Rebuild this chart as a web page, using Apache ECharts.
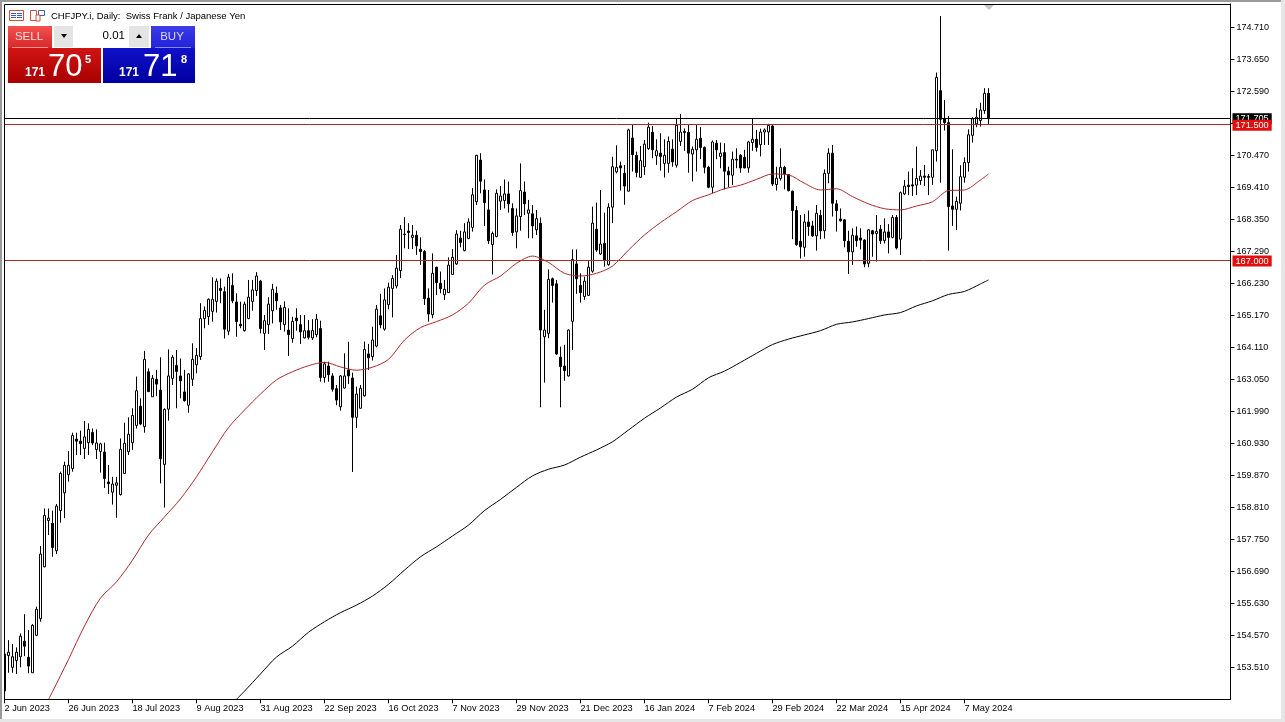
<!DOCTYPE html>
<html>
<head>
<meta charset="utf-8">
<title>CHFJPY.i, Daily</title>
<script src="https://cdn.jsdelivr.net/npm/echarts@6/dist/echarts.min.js"></script>
<style>
html, body { margin: 0; padding: 0; background: #fff; }
#chart { width: 1285px; height: 722px; }
</style>
</head>
<body>
<div id="chart"></div>
<script>
const chartTitle = 'CHFJPY.i, Daily:  Swiss Frank / Japanese Yen';
const FONT = '"Liberation Sans", Arial, sans-serif';

// one label every 16 bars, from the first bar
const dateLabels = ['2 Jun 2023', '26 Jun 2023', '18 Jul 2023', '9 Aug 2023', '31 Aug 2023', '22 Sep 2023', '16 Oct 2023', '7 Nov 2023',
    '29 Nov 2023', '21 Dec 2023', '16 Jan 2024', '7 Feb 2024', '29 Feb 2024', '22 Mar 2024', '15 Apr 2024', '7 May 2024'];
const priceTicks = [153.51, 154.57, 155.63, 156.69, 157.75, 158.81, 159.87, 160.93, 161.99, 163.05, 164.11,
    165.17, 166.23, 167.29, 168.35, 169.41, 170.47, 171.53, 172.59, 173.65, 174.71];

const opens = [
    153.95,153.90,153.51,153.73,153.86,154.37,153.84,153.33,154.57,155.12,
    156.84,158.37,158.28,157.37,158.70,159.29,159.89,160.09,161.07,161.00,
    160.76,160.95,161.29,160.72,160.66,160.64,159.65,159.31,159.54,159.23,
    159.93,160.65,160.95,161.52,162.16,161.48,163.30,162.47,163.05,162.69,
    160.23,162.06,163.08,163.51,163.16,162.63,162.19,163.05,163.53,163.80,
    165.06,165.13,165.30,165.63,166.06,165.95,164.64,166.16,165.61,164.87,
    164.66,165.06,165.63,165.99,166.30,164.57,164.86,165.32,165.90,165.41,
    164.86,164.68,164.40,165.08,164.86,164.42,164.66,164.42,164.53,164.73,
    163.11,163.49,163.16,162.74,162.14,162.76,163.36,163.09,161.79,162.09,
    162.50,163.89,163.80,164.15,165.15,164.71,165.52,166.06,166.14,166.65,
    167.84,167.96,167.75,167.82,167.36,167.28,165.74,165.19,166.76,166.23,
    165.85,165.92,166.52,166.87,167.73,167.31,167.71,168.08,168.93,170.31,
    169.32,168.66,167.51,167.78,168.95,168.97,169.19,168.71,167.93,168.44,
    169.25,168.55,168.53,168.00,168.22,164.46,164.57,166.38,166.21,163.78,
    163.49,163.16,164.97,166.87,166.16,165.79,165.83,166.63,168.02,167.20,
    167.55,166.85,168.75,169.92,170.12,169.87,169.28,171.04,170.47,169.74,
    170.09,170.69,171.23,170.45,170.54,170.20,170.20,170.67,170.14,170.93,
    171.26,171.23,170.51,170.65,171.03,170.73,170.07,169.41,170.87,170.43,
    170.56,169.94,169.81,170.34,170.47,170.40,170.05,170.89,171.00,170.82,
    171.24,171.24,171.44,169.50,169.70,170.07,169.83,169.28,168.64,167.62,
    167.42,168.26,168.13,167.80,168.48,167.97,169.87,170.54,168.86,168.36,
    168.33,167.62,167.27,167.80,167.73,167.66,166.89,167.97,167.88,168.02,
    167.64,167.93,167.75,168.41,167.69,169.19,169.48,169.49,169.48,169.63,
    169.78,169.77,169.74,170.62,172.61,171.68,171.55,168.79,168.68,168.88,
    169.74,170.23,171.13,171.51,171.62,171.95,172.52];
const closes = [
    152.73,154.01,153.86,154.01,154.54,154.21,153.55,154.90,155.43,157.26,
    158.54,158.45,157.48,158.85,159.93,160.20,160.20,161.19,161.00,160.92,
    161.14,161.39,160.94,160.94,160.91,159.76,159.59,159.58,159.62,160.73,
    160.93,161.23,161.85,162.67,161.57,163.71,162.64,163.08,162.89,160.42,
    162.05,163.16,163.78,163.31,163.00,162.34,163.23,163.71,163.84,165.06,
    165.33,165.70,165.70,166.30,165.99,164.71,166.43,165.65,164.96,164.82,
    165.54,165.77,166.01,166.47,164.73,164.99,165.54,166.03,165.65,164.95,
    165.43,164.53,164.97,164.99,164.62,164.66,164.44,164.66,165.04,163.11,
    163.56,163.20,162.72,162.36,163.16,163.16,163.16,161.79,162.56,162.75,
    164.04,163.76,164.35,165.37,164.85,165.68,166.10,166.39,166.73,168.02,
    167.86,167.91,167.82,167.47,167.28,165.72,165.21,166.56,166.25,166.05,
    166.03,166.83,167.09,167.86,167.58,167.93,168.26,169.16,170.47,169.61,
    168.90,167.64,167.88,169.21,169.12,169.19,168.86,167.91,168.46,169.30,
    168.86,168.66,168.13,168.37,164.68,164.68,166.36,166.16,163.89,163.47,
    163.34,164.68,167.02,166.38,165.92,166.30,166.76,168.22,167.33,167.53,
    167.00,168.75,170.09,170.07,170.05,169.45,171.31,170.49,169.90,170.29,
    170.84,171.40,170.65,170.62,170.43,170.47,170.93,170.25,171.46,171.24,
    171.22,170.54,170.67,171.00,170.73,170.07,169.41,170.91,170.65,170.54,
    169.94,169.82,170.34,170.31,170.05,170.05,170.91,171.00,170.73,171.24,
    171.31,171.46,169.52,169.71,170.07,169.85,169.30,168.64,167.51,167.44,
    168.26,168.11,167.80,168.55,167.97,169.87,170.54,168.88,168.64,168.30,
    167.64,167.27,167.82,167.64,167.66,166.87,168.00,167.86,167.95,167.64,
    167.93,167.75,168.41,167.40,169.23,169.45,169.43,169.45,169.70,169.78,
    169.74,169.74,170.65,173.05,171.66,171.55,168.77,168.68,168.94,169.76,
    170.23,171.15,171.68,171.73,171.97,172.52,171.68];
const lows = [
    152.73,153.33,153.33,153.29,153.51,153.88,153.31,153.33,154.54,155.02,
    156.82,157.89,157.17,157.26,158.30,158.45,159.66,159.99,160.54,160.54,
    160.41,160.54,160.87,160.41,159.96,159.45,159.25,158.90,158.46,159.20,
    159.93,160.54,160.71,161.42,161.53,161.28,162.64,162.47,162.49,159.60,
    158.80,161.68,162.86,162.09,162.42,162.31,161.94,162.83,163.25,163.69,
    164.74,164.85,164.96,165.26,165.57,164.40,164.51,165.57,164.46,164.74,
    164.63,165.04,165.32,165.81,164.57,164.02,164.55,164.90,165.35,164.68,
    164.63,163.82,164.26,164.66,164.22,164.40,164.37,164.35,164.44,162.97,
    162.94,162.97,162.64,162.19,162.01,162.74,162.89,159.98,161.43,162.08,
    162.48,163.36,163.67,164.11,164.74,164.66,165.37,165.10,166.06,166.40,
    167.39,167.36,167.36,167.17,166.84,165.51,164.96,165.07,165.84,165.90,
    165.68,165.92,166.52,166.84,167.42,167.29,167.69,167.94,168.82,169.21,
    168.13,167.53,166.52,167.75,168.66,168.71,168.57,167.80,167.39,167.97,
    168.49,167.72,167.72,167.83,162.12,162.94,164.41,165.59,163.85,162.12,
    163.00,163.14,164.02,165.88,165.59,165.68,165.81,166.58,167.27,167.17,
    166.78,166.81,168.22,169.87,169.30,168.83,169.27,169.93,169.74,169.72,
    169.82,170.65,170.37,170.15,169.96,169.73,169.89,170.09,170.06,170.78,
    170.62,169.89,169.60,169.93,170.34,169.87,169.38,169.21,170.34,170.04,
    169.34,169.41,169.49,170.04,169.89,170.04,169.89,170.62,170.59,170.43,
    170.81,170.81,169.45,169.30,169.63,169.34,169.27,167.69,167.47,167.05,
    167.11,167.80,167.77,167.31,167.69,167.71,169.54,168.44,167.94,168.27,
    167.42,166.54,166.84,167.44,167.35,166.76,166.76,167.11,166.95,167.53,
    167.55,167.22,167.72,167.35,167.17,169.15,169.15,169.12,169.15,169.49,
    169.45,169.15,169.49,170.26,169.56,171.29,167.31,168.13,167.99,168.64,
    169.56,169.93,170.89,171.40,171.42,171.84,171.51];
const highs = [
    154.08,154.41,154.28,154.17,154.63,155.27,154.74,154.94,155.52,157.53,
    158.77,158.77,158.70,158.92,159.99,160.32,160.67,161.28,161.28,161.35,
    161.67,161.59,161.42,161.39,160.95,160.95,160.21,159.82,159.82,161.09,
    161.61,161.79,162.09,163.14,162.42,163.99,163.41,163.19,163.36,163.78,
    162.09,164.04,163.85,164.02,163.74,163.36,163.25,164.24,164.08,165.57,
    165.46,165.73,166.43,166.39,166.39,166.12,166.54,166.56,165.90,165.62,
    165.62,166.34,166.34,166.60,166.34,165.18,165.77,166.21,166.12,165.51,
    165.63,165.40,165.12,165.40,165.18,165.18,165.01,165.04,165.21,164.99,
    163.63,163.63,163.25,162.86,163.19,163.91,164.29,163.27,162.81,162.86,
    164.30,164.22,164.79,165.51,165.88,166.06,166.25,166.50,167.17,168.16,
    168.42,168.22,168.16,167.97,167.75,167.33,166.06,167.22,166.78,166.62,
    166.34,167.09,167.36,167.99,167.97,168.22,168.38,169.38,170.48,170.54,
    169.67,169.32,167.94,169.34,169.45,169.67,169.60,168.88,168.71,170.20,
    169.60,168.99,168.82,168.66,168.41,165.35,166.69,166.42,166.34,164.13,
    164.19,164.70,167.35,167.35,166.56,166.45,166.96,168.77,168.90,169.32,
    168.57,168.88,170.42,170.80,170.26,170.15,171.35,171.47,170.59,170.78,
    170.98,171.55,171.44,171.00,171.20,171.00,171.09,171.00,171.69,171.84,
    171.36,171.47,170.76,171.47,171.40,170.76,170.12,170.96,170.98,170.89,
    170.87,170.09,170.59,170.70,170.51,170.65,170.95,171.69,171.31,171.35,
    171.36,171.51,171.47,170.09,170.70,170.12,169.85,169.30,168.79,168.49,
    168.53,168.64,168.30,168.82,168.66,170.00,170.70,170.81,168.99,168.71,
    168.35,167.97,168.05,168.11,168.05,167.69,168.02,168.00,168.49,168.16,
    168.38,168.19,168.49,168.49,169.27,169.65,169.93,170.04,170.76,169.98,
    170.15,169.85,170.65,173.21,175.08,172.30,171.77,170.67,169.10,170.14,
    170.40,171.33,171.73,172.03,172.21,172.69,172.69];

// moving averages: [bar index, price]
const maRed = [[11,152.45],[12,152.70],[16,153.77],[20,154.88],[24,155.80],[28,156.34],[32,157.06],[36,157.89],[40,158.49],[44,159.09],
    [48,159.82],[52,160.65],[56,161.45],[60,162.03],[64,162.56],[68,163.03],[72,163.30],[76,163.50],[80,163.61],[84,163.46],
    [88,163.35],[92,163.45],[96,163.71],[100,164.35],[104,164.76],[108,164.96],[112,165.18],[116,165.57],[120,166.17],[124,166.47],
    [128,166.89],[132,167.13],[136,166.92],[140,166.56],[144,166.47],[148,166.56],[152,166.80],[156,167.33],[160,167.83],[164,168.24],
    [168,168.60],[172,168.97],[176,169.16],[180,169.36],[184,169.48],[188,169.67],[192,169.85],[196,169.82],[200,169.54],[204,169.32],
    [208,169.36],[212,169.10],[216,168.86],[220,168.70],[224,168.66],[228,168.79],[232,168.93],[236,169.30],[240,169.32],[244,169.65],[246,169.85]];
const maBlack = [[58,152.45],[60,152.72],[64,153.29],[68,153.85],[72,154.21],[76,154.67],[80,155.02],[84,155.32],[88,155.57],[92,155.87],
    [96,156.26],[100,156.73],[104,157.17],[108,157.50],[112,157.86],[116,158.22],[120,158.70],[124,159.07],[128,159.47],[132,159.85],
    [136,160.07],[140,160.21],[144,160.47],[148,160.71],[152,160.98],[156,161.37],[160,161.76],[164,162.10],[168,162.46],[172,162.72],
    [176,163.10],[180,163.32],[184,163.61],[188,163.91],[192,164.20],[196,164.38],[200,164.52],[204,164.66],[208,164.87],[212,164.95],
    [216,165.06],[220,165.18],[224,165.26],[228,165.48],[232,165.65],[236,165.86],[240,165.96],[244,166.21],[246,166.34]];

// the axis has room for 307 bars, the rest stays empty on the right
const barSlots = 307;
const categories = [];
for (let i = 0; i < barSlots; i++) {
    categories.push(i % 16 === 0 && dateLabels[i / 16] ? dateLabels[i / 16] : '');
}
const isDateBar = (index) => categories[index] !== '';

const candles = opens.map((o, i) => [o, closes[i], lows[i], highs[i]]);

function priceLevel(value, text, lineColor, boxColor) {
    return {
        yAxis: value,
        lineStyle: { color: lineColor, width: 1, type: 'solid' },
        label: {
            show: true,
            position: 'end',
            distance: 2,
            offset: [0, 1],
            formatter: text,
            color: '#fff',
            backgroundColor: boxColor,
            padding: [1, 3, 1, 3],
            fontFamily: FONT,
            fontSize: 9.2
        }
    };
}

const WHITE = '#ffffff';
function rect(x, y, w, h, fill, extra) {
    return Object.assign({ type: 'rect', z: 100, shape: { x: x, y: y, width: w, height: h }, style: { fill: fill }, silent: true }, extra);
}
function text(x, y, str, font, fill, align) {
    return { type: 'text', z: 101, x: x, y: y, silent: true, style: { text: str, font: font + ' ' + FONT, fill: fill, align: align || 'left', verticalAlign: 'middle' } };
}
function vGradient(top, bottom) {
    return new echarts.graphic.LinearGradient(0, 0, 0, 1, [{ offset: 0, color: top }, { offset: 1, color: bottom }]);
}

const decorations = [
    // window edges, they also cut off what sticks out left of the frame
    rect(0, 0, 4, 722, WHITE),
    rect(0, 0, 2, 722, '#9a9a9a'),
    rect(0, 0, 1285, 2, '#9a9a9a'),
    rect(0, 719, 1285, 3, '#e6e6e6'),
    rect(1281, 0, 4, 722, '#e6e6e6'),
    { type: 'rect', z: 99, silent: true, shape: { x: 4.5, y: 4.5, width: 1226, height: 695 }, style: { fill: 'none', stroke: '#000', lineWidth: 1 } },
    // shift marker at the top of the chart
    { type: 'polygon', z: 100, silent: true, shape: { points: [[984, 5], [994, 5], [989, 10]] }, style: { fill: '#c4c4c4' } },
    // title icons
    rect(9.5, 10.5, 14, 10, '#fff', { style: { fill: '#fff', stroke: '#d0503c', lineWidth: 1 } }),
    rect(11, 13, 5, 1, '#3a5fb0'), rect(11, 15, 5, 1, '#3a5fb0'), rect(11, 17, 5, 1, '#3a5fb0'),
    rect(17, 13, 5, 1, '#3a5fb0'), rect(17, 15, 5, 1, '#3a5fb0'), rect(17, 17, 5, 1, '#3a5fb0'),
    rect(30.5, 10.5, 6, 10, '#fff', { style: { fill: '#fff', stroke: '#d0503c', lineWidth: 1 } }),
    rect(38.5, 10.5, 6, 5, '#fff', { style: { fill: '#fff', stroke: '#3a5fb0', lineWidth: 1 } }),
    rect(36, 15, 4, 6, '#fff', { style: { fill: '#fff', stroke: '#d0503c', lineWidth: 1 } }),
    text(51, 16, chartTitle, '9.5px', '#000'),
    // one click trading panel
    rect(8, 26, 44, 22, vGradient('#f45050', '#d82828')),
    rect(12, 47, 36, 1, '#ff9090'),
    text(29, 36.5, 'SELL', '11.5px', '#ffe0e0', 'center'),
    rect(8, 48, 93, 35, vGradient('#d01414', '#a80000')),
    text(25, 73, '171', 'bold 12px', '#fff'),
    text(48, 67, '70', '31px', '#fff'),
    text(85, 60, '5', 'bold 11px', '#fff'),
    rect(151, 26, 44, 22, vGradient('#3c3ce8', '#2222d8')),
    rect(155, 47, 36, 1, '#8888ff'),
    text(172, 36.5, 'BUY', '11.5px', '#d8d8ff', 'center'),
    rect(103, 48, 92, 35, vGradient('#1010c8', '#0000a0')),
    text(119, 73, '171', 'bold 12px', '#fff'),
    text(143, 67, '71', '31px', '#fff'),
    text(181, 60, '8', 'bold 11px', '#fff'),
    rect(54, 26, 19, 21, '#e4e4e4'),
    rect(73, 26, 56, 21, '#ffffff'),
    rect(129, 26, 20, 21, '#e4e4e4'),
    { type: 'polygon', z: 101, silent: true, shape: { points: [[61, 34], [67, 34], [64, 38]] }, style: { fill: '#000' } },
    { type: 'polygon', z: 101, silent: true, shape: { points: [[136, 38], [142, 38], [139, 34]] }, style: { fill: '#000' } },
    text(125, 36, '0.01', '11.5px', '#000', 'right')
];

const myChart = echarts.init(document.getElementById('chart'), null, { renderer: 'canvas' });

const option = {
    animation: false,
    backgroundColor: '#fff',
    textStyle: { fontFamily: FONT },
    // 4px per bar, so every candle lands on the same pixel columns
    grid: { left: 2.5, top: 4, width: 1228, height: 695.3, containLabel: false },
    xAxis: {
        type: 'category',
        data: categories,
        boundaryGap: true,
        axisLine: { show: true, lineStyle: { color: '#000', width: 1 } },
        axisTick: { show: true, alignWithLabel: true, length: 4, interval: isDateBar, lineStyle: { color: '#000' } },
        axisLabel: { show: true, interval: isDateBar, align: 'left', margin: 5, color: '#000', fontSize: 9.2, fontFamily: FONT, hideOverlap: false },
        splitLine: { show: false }
    },
    yAxis: {
        type: 'value',
        position: 'right',
        min: 152.45,
        max: 175.48,
        axisLine: { show: true, onZero: false, lineStyle: { color: '#000', width: 1 } },
        axisTick: { show: true, length: 4, customValues: priceTicks, lineStyle: { color: '#000' } },
        axisLabel: {
            show: true,
            customValues: priceTicks,
            margin: 6,
            color: '#000',
            fontSize: 9,
            fontFamily: FONT,
            formatter: (v) => v.toFixed(3)
        },
        splitLine: { show: false }
    },
    series: [
        {
            type: 'line',
            data: maBlack,
            showSymbol: false,
            symbol: 'none',
            smooth: 0.3,
            lineStyle: { color: '#000', width: 1 },
            z: 2
        },
        {
            type: 'candlestick',
            data: candles,
            barWidth: 2,
            itemStyle: {
                color: '#fff',
                color0: '#000',
                borderColor: '#000',
                borderColor0: '#000',
                borderColorDoji: '#000',
                borderWidth: 1
            },
            markLine: {
                silent: true,
                symbol: 'none',
                animation: false,
                data: [
                    priceLevel(171.705, '171.705', '#000', '#000'),
                    priceLevel(171.5, '171.500', '#a82a2a', '#e01010'),
                    priceLevel(167, '167.000', '#a82a2a', '#e01010')
                ]
            },
            z: 3
        },
        {
            type: 'line',
            data: maRed,
            showSymbol: false,
            symbol: 'none',
            smooth: 0.3,
            lineStyle: { color: '#a82a2a', width: 1 },
            z: 4
        }
    ],
    graphic: { elements: decorations }
};

myChart.setOption(option, true);
</script>
</body>
</html>
